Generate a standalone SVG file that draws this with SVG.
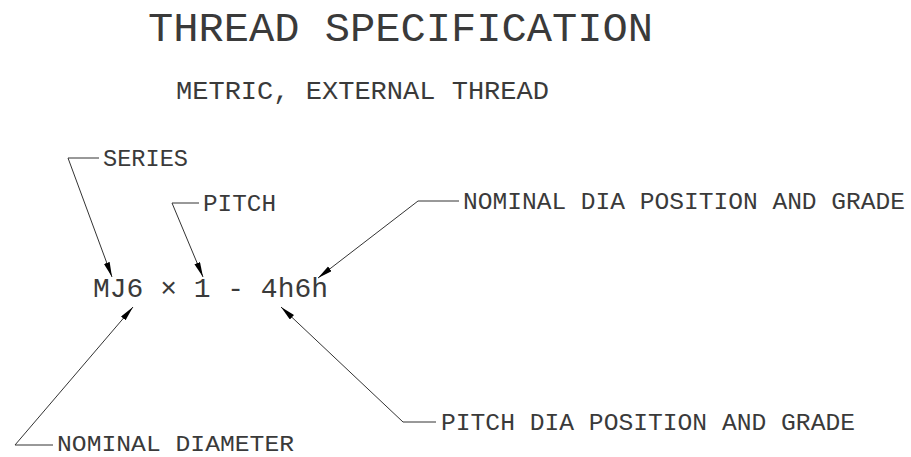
<svg xmlns="http://www.w3.org/2000/svg" width="911" height="457" viewBox="0 0 911 457">
<style>
text{font-family:"Liberation Mono","DejaVu Sans Mono",monospace;fill:#3a3a3a;}
.t1{font-size:40px;}
.t2{font-size:25px;}
.lbl{font-size:24px;}
.main{font-size:27px;}
.ld{fill:none;stroke:#333;stroke-width:1;}
</style>
<defs>
<marker id="ah" markerUnits="userSpaceOnUse" markerWidth="16" markerHeight="8" refX="15" refY="3" orient="auto">
<path d="M0,0 L15,3 L0,6 z" fill="#000"/>
</marker>
</defs>
<rect width="911" height="457" fill="#fff"/>
<g id="title"><text class="t1" x="148" y="41" textLength="505" lengthAdjust="spacingAndGlyphs">THREAD SPECIFICATION</text></g>
<g id="subtitle"><text class="t2" x="176" y="99" textLength="373" lengthAdjust="spacingAndGlyphs">METRIC, EXTERNAL THREAD</text></g>
<g id="spec"><text class="main" x="93" y="297" textLength="235" lengthAdjust="spacingAndGlyphs">MJ6 × 1 - 4h6h</text></g>
<g id="series"><text class="lbl" x="103" y="166" textLength="85" lengthAdjust="spacingAndGlyphs">SERIES</text></g>
<g id="pitch"><text class="lbl" x="203" y="211" textLength="73" lengthAdjust="spacingAndGlyphs">PITCH</text></g>
<g id="nominal-dia-grade"><text class="lbl" x="463" y="209" textLength="442" lengthAdjust="spacingAndGlyphs">NOMINAL DIA POSITION AND GRADE</text></g>
<g id="pitch-dia-grade"><text class="lbl" x="441" y="430" textLength="414" lengthAdjust="spacingAndGlyphs">PITCH DIA POSITION AND GRADE</text></g>
<g id="nominal-diameter"><text class="lbl" x="57" y="451" textLength="237" lengthAdjust="spacingAndGlyphs" style="font-size:22px">NOMINAL DIAMETER</text></g>
<g id="connectors">
<path class="ld" d="M99,158 H68 L112,277" marker-end="url(#ah)"/>
<path class="ld" d="M199,203 H172 L203,277" marker-end="url(#ah)"/>
<path class="ld" d="M459,201 H418 L318,278" marker-end="url(#ah)"/>
<path class="ld" d="M53,445 H15 L133,307" marker-end="url(#ah)"/>
<path class="ld" d="M436,422 H403 L281,307" marker-end="url(#ah)"/>
</g>
</svg>
